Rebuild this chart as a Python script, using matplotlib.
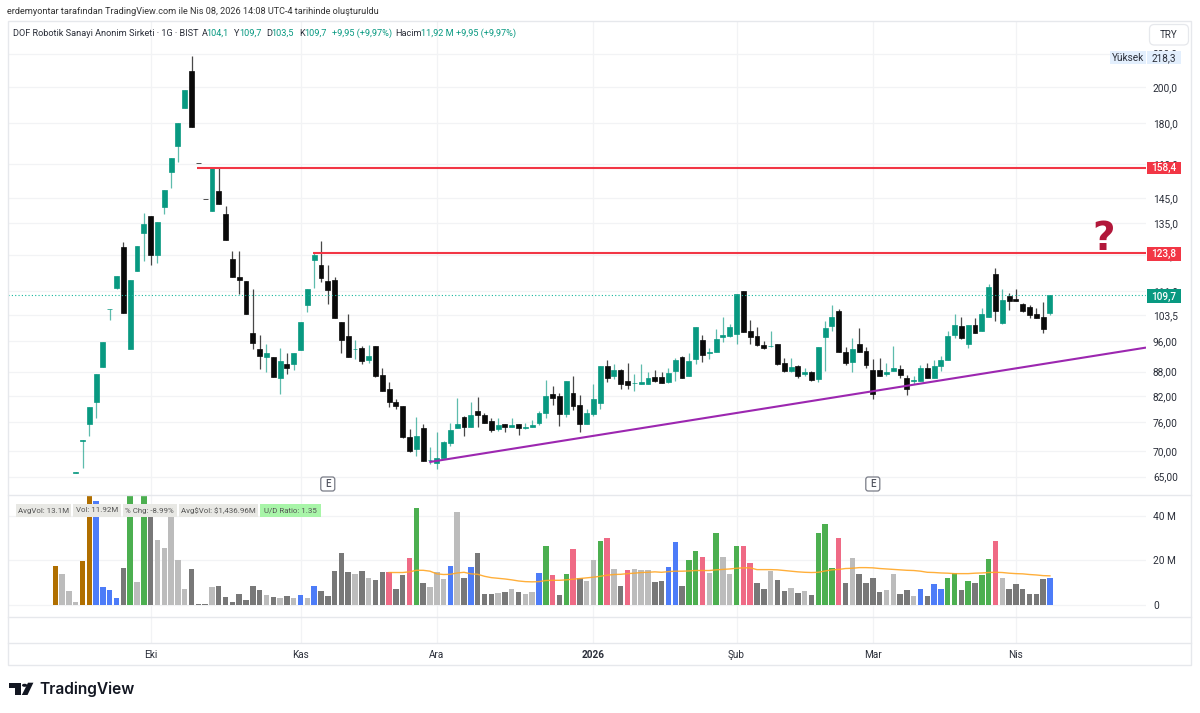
import numpy as np
import matplotlib
matplotlib.use("Agg")
import matplotlib.pyplot as plt
from matplotlib.patches import FancyBboxPatch, Rectangle, Polygon, Circle
from matplotlib.ticker import NullLocator

W, H = 1200, 713
plt.rcParams['font.family'] = ['Roboto', 'DejaVu Sans']

opens = [65.7,72.1,75.7,80.6,89.2,105.3,112.0,125.9,93.9,117.5,131.3,137.6,123.1,141.6,156.5,168.5,187.9,209.3,160.5,144.6,
         139.6,148.2,138.5,121.8,115.5,114.3,98.4,93.8,91.7,91.8,86.3,89.9,90.0,93.6,106.5,121.4,119.8,114.2,114.7,101.4,
         97.5,93.8,94.1,91.1,94.7,87.2,83.8,80.5,79.8,72.8,70.3,74.8,68.2,67.7,68.5,71.6,74.7,77.3,75.1,78.5,
         77.7,76.3,74.5,75.6,75.0,75.6,74.8,75.1,75.9,78.0,82.4,82.0,77.9,82.8,80.0,75.7,77.9,80.4,89.3,87.0,
         88.4,85.6,85.1,84.9,84.9,86.6,86.6,85.5,88.1,91.8,87.0,91.3,96.3,92.9,93.0,97.1,97.4,98.0,110.9,98.9,
         97.5,95.0,94.6,95.3,90.1,88.2,89.4,87.3,88.0,86.1,97.3,100.4,104.7,93.1,90.5,95.3,93.4,88.4,88.4,87.5,
         88.1,88.6,86.4,85.7,85.7,89.0,86.3,89.3,90.9,97.7,100.4,95.4,100.6,98.9,102.9,116.6,101.2,109.3,108.6,106.9,
         105.9,103.9,103.0,104.1]
closes = [65.8,72.3,79.4,87.4,95.8,105.5,115.9,104.2,114.7,126.3,134.8,123.1,135.4,148.6,163.0,180.0,198.1,178.2,160.4,144.5,
          158.4,142.8,128.5,115.5,114.5,103.8,95.6,92.0,92.9,86.7,90.8,88.9,92.9,101.5,111.8,123.1,115.1,111.4,102.8,96.3,
          91.8,93.9,90.7,92.0,87.0,83.2,80.6,79.6,72.8,70.0,73.1,68.1,68.3,68.5,71.8,74.3,75.6,75.1,77.7,77.6,
          75.8,74.4,75.4,75.0,75.4,74.7,75.1,75.4,78.0,82.0,81.5,77.9,85.6,79.6,75.7,78.0,81.4,89.3,86.3,88.4,
          84.9,84.7,85.2,85.4,86.5,85.7,85.1,87.7,91.0,86.3,90.8,100.1,92.2,93.0,96.8,97.7,100.1,109.9,98.6,97.3,
          95.0,94.3,94.7,89.9,88.2,89.2,87.0,87.8,85.9,94.5,99.8,103.0,93.0,90.1,93.8,93.0,89.8,82.4,87.0,88.0,
          88.8,87.2,83.7,85.8,88.8,86.4,89.3,90.9,97.5,100.6,97.0,100.6,98.3,103.9,112.3,104.8,108.3,107.9,107.7,104.7,
          103.5,102.6,99.4,109.7]
highs = [65.8,72.3,79.4,87.4,95.8,105.5,115.9,127.7,114.7,126.3,139.0,137.8,135.4,148.6,163.0,180.0,198.1,218.3,160.5,144.6,
         158.4,158.2,141.8,124.4,124.6,114.3,111.6,97.7,95.3,91.8,94.3,92.9,92.9,101.5,111.8,123.8,128.3,119.8,115.5,101.4,
         103.8,96.3,94.6,95.0,94.7,88.8,85.4,81.3,79.8,74.6,77.2,75.6,70.8,74.0,72.0,75.8,81.6,77.5,80.5,81.8,
         78.0,76.9,76.9,75.6,77.0,75.6,75.9,76.5,78.6,85.9,84.3,82.8,85.6,87.0,82.3,79.0,84.8,89.3,90.9,89.9,
         88.6,90.1,87.4,89.9,87.8,88.4,87.8,88.9,91.6,92.1,92.9,100.1,97.7,94.3,99.4,103.0,101.0,109.9,111.0,102.1,
         100.1,96.2,98.8,95.3,91.6,91.6,89.7,89.0,88.2,94.5,101.8,106.5,105.3,94.5,97.0,99.9,94.5,91.2,91.5,90.1,
         94.8,89.7,87.2,86.8,89.7,90.1,90.9,92.0,98.9,103.8,102.9,100.6,102.7,105.6,113.2,118.6,111.6,110.5,111.6,107.3,
         106.7,105.7,107.5,109.7]
lows = [65.7,66.6,73.0,76.9,89.2,102.1,111.6,104.2,93.9,117.5,121.0,119.6,120.4,138.6,149.2,161.0,187.9,178.2,160.4,144.5,
        139.6,142.8,128.5,115.5,110.2,103.8,93.8,88.6,87.8,86.7,82.4,87.3,88.4,93.6,104.5,112.1,113.8,107.0,102.8,92.9,
        91.8,91.2,89.9,90.1,86.7,83.2,79.4,79.1,72.6,69.8,68.9,68.1,67.4,66.4,68.5,71.0,74.7,73.0,75.1,75.1,
        75.8,73.9,74.1,74.0,75.0,73.2,74.6,75.1,75.4,77.0,80.0,75.3,77.2,78.8,74.0,75.7,77.4,78.9,85.5,86.1,
        83.8,83.7,83.1,84.8,84.9,85.5,85.1,85.2,85.7,86.3,87.0,90.0,90.5,91.2,93.0,95.7,97.2,95.4,98.6,95.3,
        94.8,93.8,94.4,89.6,88.0,88.0,86.4,87.0,85.7,85.4,88.2,98.9,93.0,89.7,87.8,93.0,89.0,81.4,86.8,86.8,
        88.1,86.4,82.3,84.8,85.7,86.4,86.3,88.1,90.9,97.0,96.7,94.1,98.3,98.9,102.9,101.7,100.9,105.0,107.7,104.5,
        102.6,102.6,98.4,103.5]

# volume in millions, three bars start before the first visible candle
volumes = [17.4,13.8,6.2,1.2,19.8,62.0,46.6,8.0,6.8,3.0,16.5,70.0,10.2,66.0,42.7,29.1,25.5,42.0,20.2,7.2,
           16.2,0.5,0.5,8.0,8.7,3.6,1.5,5.1,2.2,8.7,6.6,4.4,3.6,3.0,4.0,3.3,4.4,3.0,8.4,6.2,
           4.0,15.3,23.4,14.9,14.1,15.3,12.0,11.3,14.9,14.9,7.4,13.7,21.2,43.8,10.0,8.0,14.9,11.6,17.7,41.7,
           12.0,17.0,23.4,4.8,4.8,5.4,5.9,7.0,5.9,4.8,5.9,14.4,26.3,13.7,4.4,14.1,25.2,12.0,11.0,20.2,
           28.8,29.9,16.2,8.4,15.6,16.2,15.8,15.6,10.2,11.0,17.3,28.2,8.4,20.2,24.2,21.6,14.4,32.4,21.6,14.1,
           26.7,26.3,19.0,9.8,7.2,15.2,11.3,6.2,7.7,5.4,6.2,4.4,32.4,36.3,16.7,30.2,9.8,21.0,13.8,9.8,
           12.3,5.9,6.6,14.1,5.1,6.6,4.0,7.2,4.0,9.5,7.2,12.3,14.4,6.6,11.0,9.8,13.4,20.6,28.8,12.3,
           7.2,9.5,7.0,4.8,4.8,11.6,11.92]
vol_class = ("O L L L O O B B B B D G L G D L L L L L D D D L D D D D D D "
             "D L D L D L B L B D D D D D L D L D D R D D R G D L L L B L "
             "D B D D D L D L D L L B G R D G R D L L G R L D R L L L D D "
             "B B D G G R L G L L G R R D D L D D L D L D G G G R D L D D "
             "D D L L D D L B D B B G G D G D G G R L D D D D D D B").split()
avg_vol = [14.6,14.6,14.6,14.9,15.6,15.6,15.2,14.0,13.7,13.8,14.4,14.7,14.0,13.8,12.9,12.3,12.0,11.7,11.3,10.8,
           10.5,10.4,10.5,11.0,11.1,11.1,11.3,11.6,11.9,12.2,12.5,12.9,13.4,13.7,13.8,14.1,14.3,14.6,14.7,14.9,
           14.7,15.0,15.2,15.2,15.3,15.5,15.5,15.5,15.8,16.0,16.2,16.5,16.7,16.7,15.9,15.9,15.9,15.8,15.5,15.2,
           14.9,14.7,14.6,14.7,15.3,15.8,16.0,16.4,16.5,16.8,16.8,16.7,16.4,16.2,16.0,15.8,15.6,15.5,15.2,14.7,
           14.6,14.4,14.3,14.1,14.1,14.1,14.3,14.4,14.6,14.7,14.6,14.3,14.1,14.0,13.7,13.5,13.2,13.1]

price_ticks = [220, 200, 180, 160, 145, 135, 123, 111, 103.5, 96, 88, 82, 76, 70, 65]
price_labels = ["220,0", "200,0", "180,0", "160,0", "145,0", "135,0", "123,0", "111,0", "103,5",
                "96,00", "88,00", "82,00", "76,00", "70,00", "65,00"]
vol_ticks = [0, 20, 40]
vol_labels = ["0", "20 M", "40 M"]
month_pos = [11, 33, 53, 76, 97, 117, 138]
month_labels = ["Eki", "Kas", "Ara", "2026", "Şub", "Mar", "Nis"]
earnings_pos = [37, 117]

level_high = 158.4
level_low = 123.8
level_high_start = 17.85
level_low_start = 34.9
trend_x = [51.9, 157.1]
trend_y = [67.8, 94.3]
last_price = 109.7

stat_boxes = [("AvgVol: 13.1M", 16, 71), ("Vol: 11.92M", 73.3, 120.7), ("% Chg: -8.99%", 123, 176.7),
              ("Avg\\$Vol: \\$1,436.96M", 179, 257.7), ("U/D Ratio: 1.35", 260, 321)]

TEAL = "#089981"
RED = "#f23645"
GRID = "#f2f3f5"
FRAME = "#e6e8ec"
TEXT = "#2a2e39"
vol_colors = {"O": "#b06f00", "L": "#bcbcbc", "D": "#787878", "B": "#4d7cf8", "G": "#4caf50", "R": "#ef6a85"}


def pane(left, top, right, bottom):
    return fig.add_axes([left / W, 1 - bottom / H, (right - left) / W, (bottom - top) / H])


def fx(x):
    return x / W


def fy(y):
    return 1 - y / H


def badge(x0, x1, y0, y1, label, fc, tc, weight="normal"):
    fig.patches.append(Rectangle((fx(x0), fy(y1)), (x1 - x0) / W, (y1 - y0) / H, transform=fig.transFigure,
                                 facecolor=fc, edgecolor="none", zorder=5))
    fig.text(fx((x0 + x1) / 2), fy((y0 + y1) / 2 + 0.3), label, color=tc, fontsize=7.2, ha="center", va="center",
             weight=weight, zorder=6)


fig = plt.figure(figsize=(W / 100, H / 100), dpi=100, facecolor="white")

ax_price = pane(8, 22, 1146, 495)
ax_vol = pane(8, 495, 1146, 616.7)
ax_empty = pane(8, 616.7, 1146, 643.3)

for ax in (ax_price, ax_vol, ax_empty):
    for s in ax.spines.values():
        s.set_visible(False)
    ax.set_xlim(-9.937, 157.1)
    ax.set_xticks(month_pos)
    ax.xaxis.grid(True, color=GRID, lw=0.9)
    ax.set_axisbelow(True)
    ax.tick_params(length=0)
    ax.yaxis.tick_right()

# candles
x_idx = np.arange(len(closes))
o = np.array(opens)
c = np.array(closes)
up = c >= o
colors = np.where(up, TEAL, "#0a0a0a")
ax_price.set_yscale("log")
ax_price.set_ylim(61.66, 241.0)
ax_price.yaxis.set_minor_locator(NullLocator())
ax_price.yaxis.set_minor_formatter(plt.NullFormatter())
ax_price.set_yticks(price_ticks)
ax_price.set_yticklabels(price_labels)
ax_price.yaxis.grid(True, color=GRID, lw=0.9)
ax_price.tick_params(axis="y", labelsize=7.3, labelcolor=TEXT, pad=5)
ax_price.tick_params(axis="x", labelbottom=False)

for color, alpha in ((TEAL, 0.65), ("#0a0a0a", 0.75)):
    m = colors == color
    ax_price.vlines(x_idx[m], np.array(lows)[m], np.array(highs)[m], color=color, lw=0.9, alpha=alpha, zorder=2)
ax_price.bar(x_idx, np.abs(c - o), bottom=np.minimum(o, c), width=0.72, color=colors, edgecolor=colors, lw=0.5, zorder=3)

ax_price.axhline(last_price, color="#14b89c", ls=(0, (1, 2)), lw=0.8, zorder=4)
ax_price.plot([level_high_start, 157.1], [level_high, level_high], color=RED, lw=1.5, zorder=5, solid_capstyle="butt")
ax_price.plot([level_low_start, 157.1], [level_low, level_low], color=RED, lw=1.5, zorder=5, solid_capstyle="butt")
ax_price.plot(trend_x, trend_y, color="#9c27b0", lw=1.5, zorder=5, solid_capstyle="butt")

# earnings markers, box size is fixed in pixels
etrans = ax_price.get_xaxis_transform()
for p in earnings_pos:
    px = etrans.transform((p, 0))[0]
    fig.patches.append(FancyBboxPatch((px / W - 7 / W, fy(491)), 14 / W, 14 / H, transform=fig.transFigure,
                                      boxstyle="round,pad=0,rounding_size=0.002", mutation_aspect=1.7,
                                      facecolor="white", edgecolor="#787b86", lw=0.9, zorder=5))
    fig.text(px / W, fy(484), "E", fontsize=7, color="#50535e", ha="center", va="center", zorder=6, weight="medium")

# question mark
fig.text(fx(1104), fy(239.5), "?", color="#b2173a", fontsize=28, weight="bold", ha="center", va="center",
         family="DejaVu Sans", zorder=5)

# volume pane
vol_x = np.arange(-3, len(closes))
ax_vol.bar(vol_x, volumes, width=0.8, color=[vol_colors[k] for k in vol_class], lw=0, zorder=2)
ax_vol.plot(np.arange(46, 46 + len(avg_vol)), avg_vol, color="#ffa726", lw=1.0, alpha=0.9, zorder=3)
ax_vol.set_ylim(-5.26, 49.44)
ax_vol.set_yticks(vol_ticks)
ax_vol.set_yticklabels(vol_labels)
ax_vol.yaxis.grid(True, color=GRID, lw=0.9)
ax_vol.tick_params(axis="y", labelsize=7.3, labelcolor=TEXT, pad=5)
ax_vol.tick_params(axis="x", labelbottom=False)

# empty pane carries the month labels
ax_empty.set_yticks([])
ax_empty.set_xticklabels(month_labels)
ax_empty.tick_params(axis="x", labelsize=7.2, labelcolor=TEXT, pad=4.8)
ax_empty.get_xticklabels()[3].set_fontweight("bold")

# frame and pane separators
fig.patches.append(Rectangle((fx(7.5), fy(665)), (1191 - 7.5) / W, (665 - 21) / H, transform=fig.transFigure,
                             facecolor="none", edgecolor=FRAME, lw=1.0, zorder=4))
for y in (495, 616.7, 643.3):
    fig.add_artist(plt.Line2D([fx(7.5), fx(1191)], [fy(y), fy(y)], color=FRAME, lw=1.0, zorder=4))

# price scale badges
badge(1146.7, 1181, 161.7, 174.3, "158,4", RED, "white", "medium")
badge(1146.7, 1181, 247, 261, "123,8", RED, "white", "medium")
badge(1146.7, 1181, 289.3, 303.3, "109,7", TEAL, "white", "medium")
badge(1110, 1146, 51, 64.3, "Yüksek", "#e3effd", TEXT)
badge(1147.2, 1181, 51, 64.3, "218,3", "#e3effd", TEXT)

# TRY button
fig.patches.append(FancyBboxPatch((fx(1149.5), fy(45)), 39 / W, 20.5 / H, transform=fig.transFigure,
                                  boxstyle="round,pad=0,rounding_size=0.004", mutation_aspect=1.7,
                                  facecolor="white", edgecolor=FRAME, lw=0.9, zorder=5))
fig.text(fx(1169), fy(35), "TRY", color=TEXT, fontsize=7.0, ha="center", va="center", zorder=6)

# volume stat labels
for label, x0, x1 in stat_boxes:
    green = label.startswith("U/D")
    fig.patches.append(Rectangle((fx(x0), fy(516.7)), (x1 - x0) / W, 12.7 / H, transform=fig.transFigure,
                                 facecolor="#a8f5a8" if green else "#e8e8e4", edgecolor="none", zorder=5))
    fig.text(fx((x0 + x1) / 2), fy(510.5), label, color="#555555", fontsize=5.7, ha="center", va="center", zorder=6)

# header lines
fig.text(fx(7), fy(12), "erdemyontar tarafından TradingView.com ile Nis 08, 2026 14:08 UTC-4 tarihinde oluşturuldu",
         color="#333333", fontsize=6.55, ha="left", va="center")
fig.text(fx(13.3), fy(33), "DOF Robotik Sanayi Anonim Sirketi · 1G · BIST", color=TEXT, fontsize=6.55,
         ha="left", va="center", zorder=6)
legend_parts = [("A", 201.7, TEXT), ("104,1", 206.7, TEAL),
                ("Y", 234.3, TEXT), ("109,7", 239.3, TEAL), ("D", 266.7, TEXT), ("103,5", 271.7, TEAL),
                ("K", 299.3, TEXT), ("109,7", 304.3, TEAL), ("+9,95 (+9,97%)", 332.3, TEAL),
                ("Hacim", 395.7, TEXT), ("11,92 M", 420.7, TEAL), ("+9,95 (+9,97%)", 455.7, TEAL)]
for label, x, col in legend_parts:
    fig.text(fx(x), fy(33), label, color=col, fontsize=6.6, ha="left", va="center", zorder=6)

# footer logo
logo = "#131722"
fig.patches.append(Polygon([(fx(9.3), fy(682.7)), (fx(21), fy(682.7)), (fx(21), fy(695)), (fx(14.5), fy(695)),
                            (fx(14.5), fy(688)), (fx(9.3), fy(688))], transform=fig.transFigure, facecolor=logo, edgecolor="none"))
fig.patches.append(Polygon([(fx(28), fy(682.7)), (fx(33.4), fy(682.7)), (fx(27.5), fy(695)), (fx(21.8), fy(695))],
                           transform=fig.transFigure, facecolor=logo, edgecolor="none"))
fig.patches.append(Circle((fx(24.6), fy(685.3)), 2.6 / W, transform=fig.transFigure, facecolor=logo, edgecolor="none"))
fig.text(fx(39.5), fy(689), "TradingView", color=logo, fontsize=11.2, family="Inter", weight="semibold",
         ha="left", va="center")

fig.savefig("out.png", dpi=100, facecolor="white")
